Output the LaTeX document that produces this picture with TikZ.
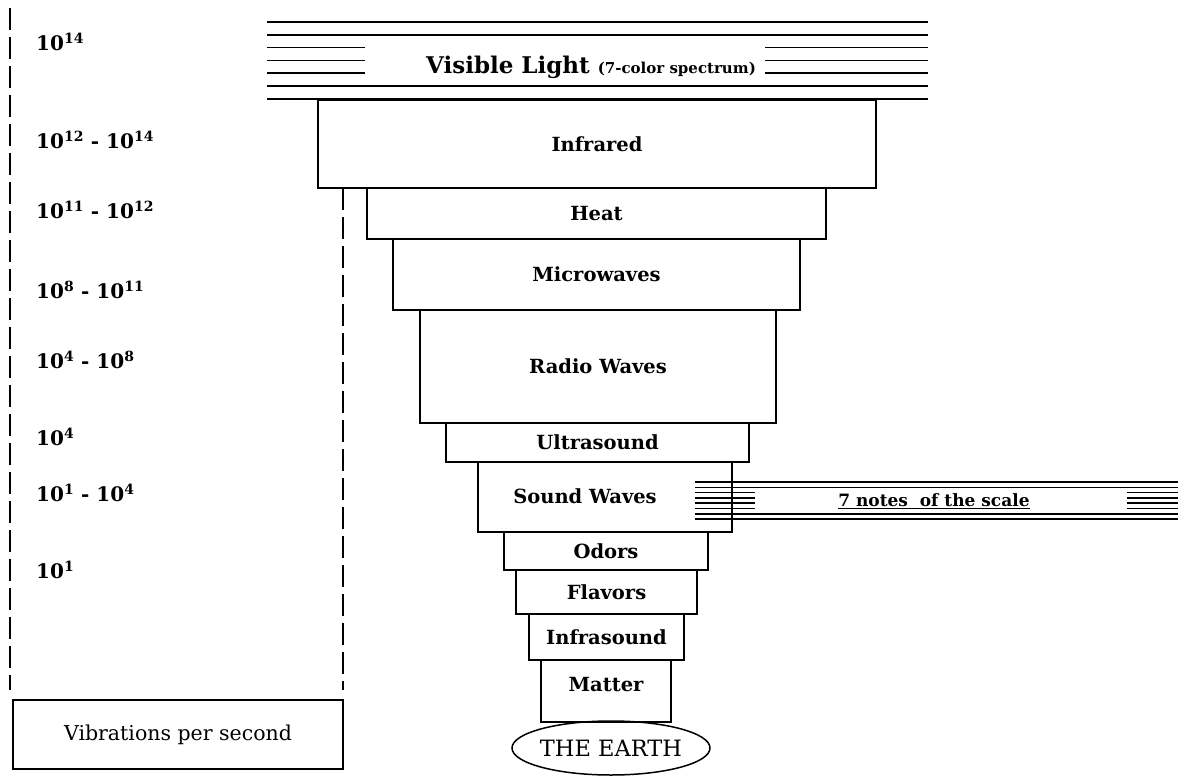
\documentclass[tikz,border=0pt]{standalone}
\usepackage{fontspec}
\setmainfont{DejaVu Serif}
\usetikzlibrary{shapes.geometric}
\tikzset{%
  wave/.style = {rectangle, draw, line width=1.5pt, inner sep=0pt,
                 font=\bfseries\fontsize{19.5}{22}\selectfont},
  earth/.style = {ellipse, draw, line width=1.5pt, inner ysep=0pt, inner xsep=-12pt,
                  font=\fontsize{22.5}{25}\selectfont},
  freq/.style = {anchor=west, inner sep=0pt,
                 font=\bfseries\fontsize{20}{23}\selectfont},
  stripe/.style = {line width=1.6pt},
  ruler/.style = {dash pattern=on 22pt off 7pt, line width=1.4pt}
  }

\begin{document}
\begin{tikzpicture}[x=1pt,y=-1pt]
  \useasboundingbox (0,0) rectangle (1184,782);

  % visible light band
  \foreach \i in {0,1,5,6}
    \draw[stripe] (267,22+12.8*\i) -- (928,22+12.8*\i);
  \foreach \i in {2,3,4}
  {
    \draw[stripe] (267,22+12.8*\i) -- (365,22+12.8*\i);
    \draw[stripe] (765,22+12.8*\i) -- (928,22+12.8*\i);
  }
  \node[font=\bfseries\fontsize{23}{26}\selectfont] (vis) at (591,67)
    {Visible Light {\fontsize{15}{17}\selectfont(7-color spectrum)}};

  % the stack
  \node[wave, minimum width=558pt, minimum height=88pt] (infra) at (597,144) {Infrared};
  \node[wave, minimum width=459pt, minimum height=51pt] (heat) at (596.5,213.5) {Heat};
  \node[wave, minimum width=407pt, minimum height=71pt] (micro) at (596.5,274.5) {Microwaves};
  \node[wave, minimum width=356pt, minimum height=113pt] (radio) at (598,366.5) {Radio Waves};
  \node[wave, minimum width=303pt, minimum height=39pt] (ultra) at (597.5,442.5) {Ultrasound};
  \node[wave, minimum width=254pt, minimum height=70pt] (sound) at (605,497) {};
  \node[font=\bfseries\fontsize{19.5}{22}\selectfont] (soundtxt) at (585,496) {Sound Waves};
  \node[wave, minimum width=204pt, minimum height=38pt] (odors) at (606,551) {Odors};
  \node[wave, minimum width=181pt, minimum height=44pt] (flavors) at (606.5,592) {Flavors};
  \node[wave, minimum width=155pt, minimum height=46pt] (infras) at (606.5,637) {Infrasound};
  \node[wave, minimum width=130pt, minimum height=62pt] (matter) at (606,691) {};
  \node[font=\bfseries\fontsize{19.5}{22}\selectfont] (mattertxt) at (606,685) {Matter};
  \node[earth, minimum width=198pt, minimum height=54pt] (earth) at (611,748) {THE EARTH};

  % the scale band
  \foreach \i in {0,1,6,7}
    \draw[stripe] (695,482+5.3*\i) -- (1178,482+5.3*\i);
  \foreach \i in {2,...,5}
  {
    \draw[stripe] (695,482+5.3*\i) -- (755,482+5.3*\i);
    \draw[stripe] (1127,482+5.3*\i) -- (1178,482+5.3*\i);
  }
  \node[font=\bfseries\fontsize{17}{20}\selectfont] (notes) at (934,501)
    {\underline{7 notes\ \ of the scale}};

  % frequencies
  \draw[ruler] (10,8) -- (10,690);
  \draw[ruler] (343,188) -- (343,690);
  \node[freq] (f1) at (36,42) {10\textsuperscript{14}};
  \node[freq] (f2) at (36,140) {10\textsuperscript{12} - 10\textsuperscript{14}};
  \node[freq] (f3) at (36,210) {10\textsuperscript{11} - 10\textsuperscript{12}};
  \node[freq] (f4) at (36,290) {10\textsuperscript{8} - 10\textsuperscript{11}};
  \node[freq] (f5) at (36,360) {10\textsuperscript{4} - 10\textsuperscript{8}};
  \node[freq] (f6) at (36,437) {10\textsuperscript{4}};
  \node[freq] (f7) at (36,493) {10\textsuperscript{1} - 10\textsuperscript{4}};
  \node[freq] (f8) at (36,570) {10\textsuperscript{1}};
  \node[draw, line width=1.5pt, minimum width=330pt, minimum height=69pt,
        font=\fontsize{20.5}{23}\selectfont] (vps) at (178,734.5) {Vibrations per second};
\end{tikzpicture}
\end{document}
